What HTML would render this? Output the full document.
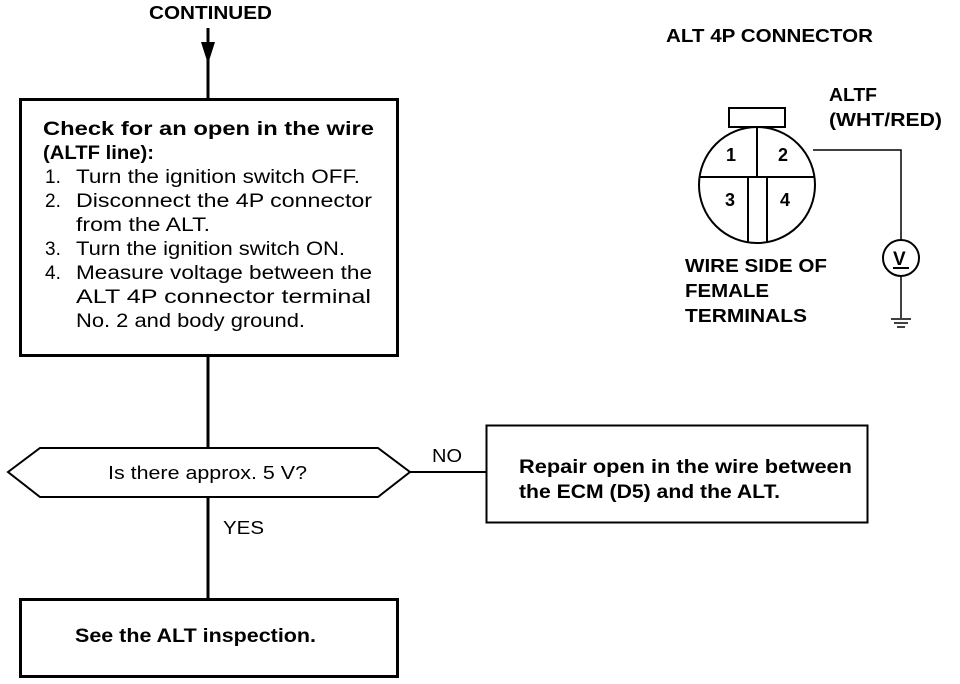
<!DOCTYPE html>
<html><head><style>
body{margin:0;background:#fff;}
svg{display:block;font-family:"Liberation Sans",sans-serif;}
.b{font-weight:bold}
</style></head><body>
<svg width="960" height="684" viewBox="0 0 960 684">
<g fill="none" stroke="#000">
<line x1="208" y1="28" x2="208" y2="98" stroke-width="3"/>
<rect x="20.5" y="99.5" width="377" height="256" stroke-width="3"/>
<line x1="208" y1="356" x2="208" y2="448" stroke-width="3"/>
<polygon points="8,472 40,448 378,448 410,472 378,497 40,497" stroke-width="2"/>
<line x1="410" y1="472" x2="486" y2="472" stroke-width="2"/>
<rect x="486.5" y="425.5" width="381" height="97" stroke-width="2"/>
<line x1="208" y1="497" x2="208" y2="599" stroke-width="3"/>
<rect x="20.5" y="599.5" width="377" height="77" stroke-width="3"/>
<rect x="729" y="108" width="56" height="19" stroke-width="2"/>
<circle cx="757" cy="185" r="58" stroke-width="2"/>
<line x1="757" y1="127" x2="757" y2="177" stroke-width="2"/>
<line x1="699" y1="177" x2="815" y2="177" stroke-width="2"/>
<line x1="748" y1="177" x2="748" y2="243" stroke-width="2"/>
<line x1="767" y1="177" x2="767" y2="242" stroke-width="2"/>
<polyline points="813,150 901,150 901,240" stroke-width="1.5"/>
<circle cx="901" cy="258" r="18" stroke-width="2"/>
<line x1="901" y1="276" x2="901" y2="318" stroke-width="1.5"/>
<line x1="891" y1="319" x2="911" y2="319" stroke-width="1.5"/>
<line x1="894" y1="323" x2="908" y2="323" stroke-width="1.5"/>
<line x1="897" y1="327" x2="905" y2="327" stroke-width="1.5"/>
<line x1="893" y1="268" x2="909" y2="268" stroke-width="2"/>
</g>
<polygon points="201,42 215,42 208,64" fill="#000"/>
<g font-size="19" fill="#000">
<text x="149" y="19" class="b" font-size="18" textLength="123" lengthAdjust="spacingAndGlyphs">CONTINUED</text>
<text x="666" y="42" class="b" font-size="18" textLength="207" lengthAdjust="spacingAndGlyphs">ALT 4P CONNECTOR</text>
<text x="829" y="101" class="b" font-size="18" textLength="48" lengthAdjust="spacingAndGlyphs">ALTF</text>
<text x="829" y="126" class="b" font-size="18" textLength="113" lengthAdjust="spacingAndGlyphs">(WHT/RED)</text>
<text x="726" y="161" class="b" font-size="18">1</text>
<text x="778" y="161" class="b" font-size="18">2</text>
<text x="725" y="206" class="b" font-size="18">3</text>
<text x="780" y="206" class="b" font-size="18">4</text>
<text x="893" y="265" class="b" font-size="19">V</text>
<text x="685" y="272" class="b" font-size="18" textLength="142" lengthAdjust="spacingAndGlyphs">WIRE SIDE OF</text>
<text x="685" y="297" class="b" font-size="18" textLength="84" lengthAdjust="spacingAndGlyphs">FEMALE</text>
<text x="685" y="322" class="b" font-size="18" textLength="122" lengthAdjust="spacingAndGlyphs">TERMINALS</text>
<text x="43" y="135" class="b" textLength="331" lengthAdjust="spacingAndGlyphs">Check for an open in the wire</text>
<text x="43" y="159" class="b" textLength="111" lengthAdjust="spacingAndGlyphs">(ALTF line):</text>
<text x="45" y="183">1.</text><text x="76" y="183" textLength="284" lengthAdjust="spacingAndGlyphs">Turn the ignition switch OFF.</text>
<text x="45" y="207">2.</text><text x="76" y="207" textLength="296" lengthAdjust="spacingAndGlyphs">Disconnect the 4P connector</text>
<text x="76" y="231" textLength="134" lengthAdjust="spacingAndGlyphs">from the ALT.</text>
<text x="45" y="255">3.</text><text x="76" y="255" textLength="269" lengthAdjust="spacingAndGlyphs">Turn the ignition switch ON.</text>
<text x="45" y="279">4.</text><text x="76" y="279" textLength="296" lengthAdjust="spacingAndGlyphs">Measure voltage between the</text>
<text x="76" y="303" textLength="295" lengthAdjust="spacingAndGlyphs">ALT 4P connector terminal</text>
<text x="76" y="327" textLength="229" lengthAdjust="spacingAndGlyphs">No. 2 and body ground.</text>
<text x="108" y="479" font-size="18" textLength="199" lengthAdjust="spacingAndGlyphs">Is there approx. 5 V?</text>
<text x="432" y="462" font-size="18" textLength="30" lengthAdjust="spacingAndGlyphs">NO</text>
<text x="223" y="534" font-size="18" textLength="41" lengthAdjust="spacingAndGlyphs">YES</text>
<text x="519" y="473" class="b" textLength="333" lengthAdjust="spacingAndGlyphs">Repair open in the wire between</text>
<text x="519" y="498" class="b" textLength="261" lengthAdjust="spacingAndGlyphs">the ECM (D5) and the ALT.</text>
<text x="75" y="642" class="b" textLength="241" lengthAdjust="spacingAndGlyphs">See the ALT inspection.</text>
</g>
</svg>
</body></html>
